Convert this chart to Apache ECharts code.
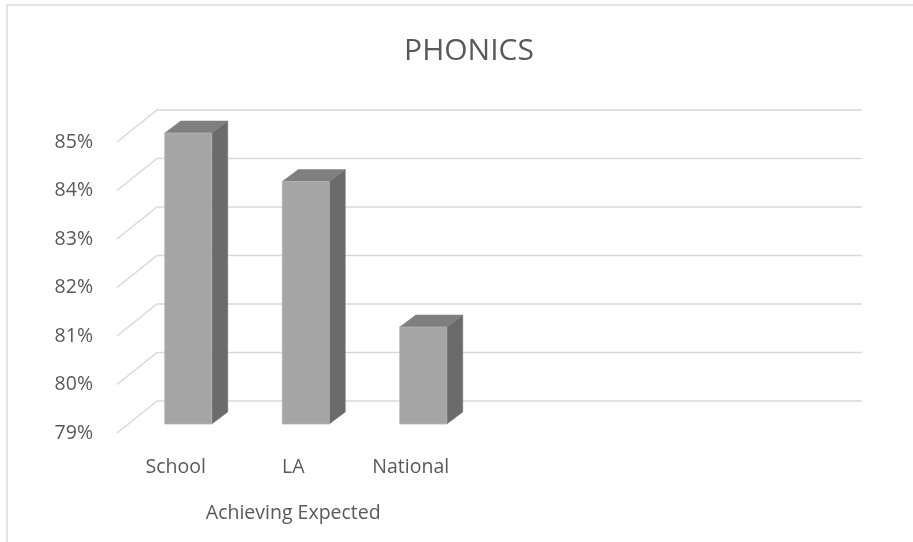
<!DOCTYPE html>
<html>
<head>
<meta charset="utf-8">
<script src="https://cdn.jsdelivr.net/npm/echarts@6/dist/echarts.min.js"></script>
<style>
html,body{margin:0;padding:0;background:#fff;}
#chart{width:913px;height:542px;}
</style>
</head>
<body>
<div id="chart"></div>
<script>
// ---- data ----
var categories = ['School', 'LA', 'National', '', '', ''];
var groupLabels = ['Achieving Expected', ''];
var values = [85, 84, 81];
var yTicks = [79, 80, 81, 82, 83, 84, 85];
var yMin = 79, yMax = 85;

// ---- style constants (3D look) ----
var DEPTH_X = 40, DEPTH_Y = -32;      // floor/back-wall depth
var BAR_OX = 12.5, BAR_OY = -9;       // bar front plane offset
var BAR_DX = 16, BAR_DY = -12;        // bar thickness
var GRID_COLOR = '#d9d9d9';
var TEXT_COLOR = '#595959';
var FONT = '"Open Sans", "Liberation Sans", sans-serif';

var chart = echarts.init(document.getElementById('chart'), null, {renderer: 'canvas'});

var barData = values.map(function (v, i) { return [i, v]; });
var gridData = yTicks.map(function (t) { return [0, t]; });

chart.setOption({
  animation: false,
  backgroundColor: '#ffffff',
  title: {
    text: 'PHONICS',
    left: 464, top: 31, textAlign: 'center',
    textStyle: {fontFamily: FONT, fontSize: 30, fontWeight: 'normal', color: TEXT_COLOR}
  },
  graphic: [
    {type: 'line', shape: {x1: 7, y1: 5, x2: 913, y2: 5}, style: {stroke: GRID_COLOR, lineWidth: 1.5}, silent: true},
    {type: 'line', shape: {x1: 7, y1: 5, x2: 7, y2: 542}, style: {stroke: GRID_COLOR, lineWidth: 1.5}, silent: true}
  ],
  grid: {left: 117, right: 91, top: 142, bottom: 109, containLabel: false},
  xAxis: [
    {
      type: 'category', data: categories, position: 'bottom',
      axisLine: {show: false}, axisTick: {show: false}, splitLine: {show: false},
      axisLabel: {margin: 24, fontFamily: FONT, fontSize: 19.5, color: TEXT_COLOR, interval: 0}
    },
    {
      type: 'category', data: groupLabels, position: 'bottom', offset: 46,
      axisLine: {show: false}, axisTick: {show: false}, splitLine: {show: false},
      axisLabel: {margin: 24, fontFamily: FONT, fontSize: 19.5, color: TEXT_COLOR, interval: 0}
    }
  ],
  yAxis: {
    type: 'value', min: yMin, max: yMax, interval: 1,
    axisLine: {show: false}, axisTick: {show: false}, splitLine: {show: false},
    axisLabel: {margin: 24, fontFamily: FONT, fontSize: 19.5, color: TEXT_COLOR, formatter: '{value}%'}
  },
  series: [
    {
      type: 'custom', name: 'grid', silent: true, z: 1,
      xAxisIndex: 0, yAxisIndex: 0,
      data: gridData,
      renderItem: function (params, api) {
        var cs = params.coordSys;
        var p = api.coord([0, api.value(1)]);
        var x0 = cs.x, y = p[1];
        return {
          type: 'polyline',
          shape: {points: [[x0, y], [x0 + DEPTH_X, y + DEPTH_Y], [x0 + cs.width + DEPTH_X, y + DEPTH_Y]]},
          style: {stroke: GRID_COLOR, lineWidth: 1.6, fill: null}
        };
      }
    },
    {
      type: 'custom', name: 'Achieving Expected', z: 3,
      xAxisIndex: 0, yAxisIndex: 0,
      data: barData,
      renderItem: function (params, api) {
        var idx = api.value(0), v = api.value(1);
        var top = api.coord([idx, v]);
        var bot = api.coord([idx, yMin]);
        var bw = api.size([1, 0])[0] * 0.4;
        var xl = top[0] - bw / 2 + BAR_OX, xr = xl + bw;
        var yt = top[1] + BAR_OY, yb = bot[1] + BAR_OY;
        return {
          type: 'group',
          children: [
            {type: 'polygon', shape: {points: [[xr, yt], [xr + BAR_DX, yt + BAR_DY], [xr + BAR_DX, yb + BAR_DY], [xr, yb]]},
             style: {fill: '#6b6b6b', stroke: '#6b6b6b', lineWidth: 0.5}},
            {type: 'polygon', shape: {points: [[xl, yt], [xl + BAR_DX, yt + BAR_DY], [xr + BAR_DX, yt + BAR_DY], [xr, yt]]},
             style: {fill: '#7f7f7f', stroke: '#7f7f7f', lineWidth: 0.5}},
            {type: 'rect', shape: {x: xl, y: yt, width: bw, height: yb - yt},
             style: {fill: '#a5a5a5', stroke: '#b4b4b4', lineWidth: 0.8}}
          ]
        };
      }
    }
  ]
});
</script>
</body>
</html>
